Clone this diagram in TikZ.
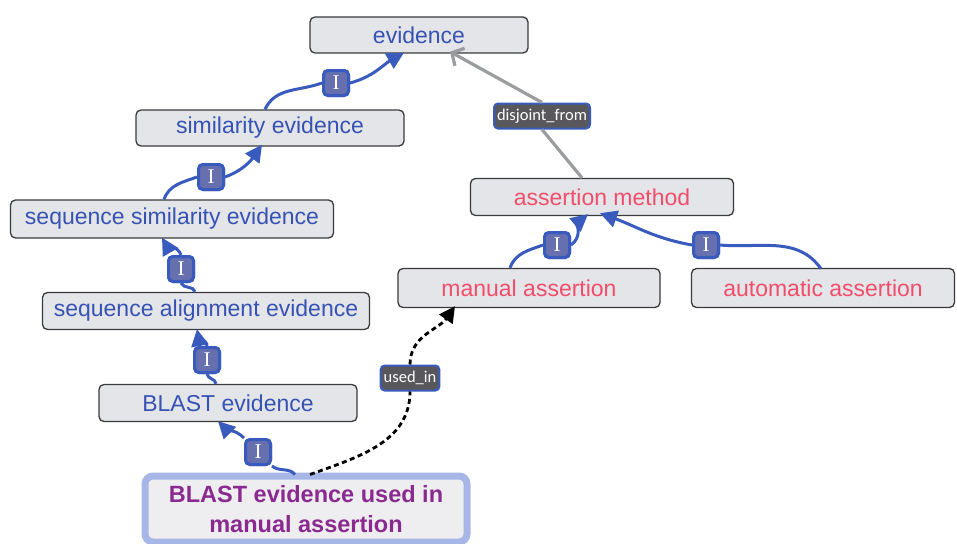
\documentclass[tikz,border=0pt]{standalone}
\usepackage{fontspec}
\setmainfont{Liberation Sans}
\newfontfamily\lblfont{Carlito}
\newfontfamily\ifont{Liberation Serif}
\usetikzlibrary{arrows.meta,calc}
\definecolor{nodefill}{HTML}{E4E5E8}
\definecolor{nodeborder}{HTML}{3A3A3C}
\definecolor{bluetext}{HTML}{3652B4}
\definecolor{redtext}{HTML}{F24D6A}
\definecolor{purpletext}{HTML}{8A2A90}
\definecolor{edgeblue}{HTML}{3A5BBE}
\definecolor{labelfill}{HTML}{6670AE}
\definecolor{darklabel}{HTML}{58585C}
\definecolor{usedborder}{HTML}{A6B6E6}
\definecolor{usedfill}{HTML}{EEEEF0}
\definecolor{edgegray}{HTML}{9A9C9F}
\tikzset{
  cls/.style={draw=nodeborder, line width=1.3pt, fill=nodefill, rounded corners=5pt,
    font=\fontsize{23}{26}\selectfont, inner sep=0pt, align=center},
  bluecls/.style={cls, text=bluetext},
  redcls/.style={cls, text=redtext},
  ilabel/.style={draw=edgeblue, line width=3pt, fill=labelfill, rounded corners=4.5pt,
    minimum width=25pt, minimum height=25pt, inner sep=0pt, text=white,
    font=\ifont\fontsize{21}{21}\selectfont},
  rlabel/.style={draw=edgeblue, line width=2pt, fill=darklabel, rounded corners=4pt,
    minimum height=25pt, inner sep=3pt, text=white, font=\lblfont\fontsize{16.5}{17}\selectfont},
  isa/.style={draw=edgeblue, line width=3pt, -{Triangle[length=17pt,width=17pt]}},
  isaplain/.style={draw=edgeblue, line width=3pt},
  grayedge/.style={draw=edgegray, line width=3.2pt},
  grayarrow/.style={grayedge, -{Straight Barb[length=9pt,width=20pt,line width=3.2pt]}},
  dashedge/.style={draw=black, line width=2.8pt, dash pattern=on 5pt off 3.5pt},
  dasharrow/.style={dashedge, -{Triangle[length=16pt,width=16pt]}}
}
\begin{document}
\begin{tikzpicture}[x=1pt,y=-1pt]
\useasboundingbox (0,0) rectangle (957,543);

% classes
\node[bluecls, minimum width=218pt, minimum height=36pt] (ev) at (419,35) {evidence};
\node[bluecls, minimum width=268pt, minimum height=36pt] (sim) at (270,128) {similarity evidence};
\node[bluecls, minimum width=323pt, minimum height=38pt] (seqsim) at (172,219) {sequence similarity evidence};
\node[bluecls, minimum width=327pt, minimum height=37pt] (seqal) at (206,311) {sequence alignment evidence};
\node[bluecls, minimum width=258pt, minimum height=37pt] (blast) at (228,403) {BLAST evidence};
\node[redcls, minimum width=263pt, minimum height=37pt] (am) at (602,197) {assertion method};
\node[redcls, minimum width=262pt, minimum height=39pt] (ma) at (529,288) {manual assertion};
\node[redcls, minimum width=263pt, minimum height=39pt] (aa) at (823,288) {automatic assertion};
\node[draw=usedborder, line width=7pt, fill=usedfill, rounded corners=8pt,
  minimum width=322pt, minimum height=66pt, inner sep=0pt, align=center,
  text=purpletext, font=\bfseries\fontsize{23.5}{30}\selectfont] (used) at (306,509)
  {BLAST evidence used in\\manual assertion};

% edge labels
\node[ilabel] (l1) at (336,83) {I};
\node[ilabel] (l2) at (211,177) {I};
\node[ilabel] (l3) at (181,269) {I};
\node[ilabel] (l4) at (207,360) {I};
\node[ilabel] (l5) at (258,452) {I};
\node[ilabel] (l7) at (557,245) {I};
\node[ilabel] (l8) at (706,245) {I};
\node[rlabel] (l6) at (542,116) {disjoint\_from};
\node[rlabel] (l9) at (410,378) {used\_in};

% edges
\path[isaplain] ($(sim.north)+(-5,0)$) to[out=65,in=200] (l1.west);
\path[isa] (l1.east) to[out=15,in=210] ($(ev.south)+(-15,-1)$);
\path[isaplain] ($(seqsim.north)+(-8,0)$) to[out=70,in=200] (l2.west);
\path[isa] (l2.east) to[out=20,in=235] ($(sim.south)+(-8,-2)$);
\path[isaplain] ($(seqal.north)+(-11,0)$) to[out=100,in=-70] (l3.south);
\path[isa] (l3.north) to[out=110,in=-60] ($(seqsim.south)+(-10,-1)$);
\path[isaplain] ($(blast.north)+(-12,0)$) to[out=95,in=-80] (l4.south);
\path[isa] (l4.north) to[out=100,in=-80] ($(seqal.south)+(-9,-1)$);
\path[isaplain] ($(used.north)+(-11,2)$) to[out=130,in=-40] (l5.south east);
\path[isa] (l5.north west) to[out=135,in=-45] ($(blast.south)+(-10,-1)$);
\path[grayedge] ($(am.north)+(-20,0)$) -- (l6.south);
\path[grayarrow] (l6.north) -- ($(ev.south)+(31,-2)$);
\path[isaplain] ($(ma.north)+(-19,0)$) to[out=70,in=200] (l7.west);
\path[isa] (l7.east) to[out=35,in=220] ($(am.south)+(-14,-2)$);
\path[isaplain] ($(aa.north)+(-2,1)$) to[out=125,in=-5] (l8.east);
\path[isa] (l8.west) to[out=170,in=-20] ($(am.south)+(-2,-3)$);
\path[dashedge] ($(used.north)+(4,2)$) to[out=20,in=-90] (l9.south);
\path[dasharrow] (l9.north) to[out=90,in=-125] ($(ma.south)+(-74,-2)$);

% redraw labels on top
\node[ilabel] at (l1) {I};
\node[ilabel] at (l2) {I};
\node[ilabel] at (l3) {I};
\node[ilabel] at (l4) {I};
\node[ilabel] at (l5) {I};
\node[ilabel] at (l7) {I};
\node[ilabel] at (l8) {I};
\end{tikzpicture}
\end{document}
